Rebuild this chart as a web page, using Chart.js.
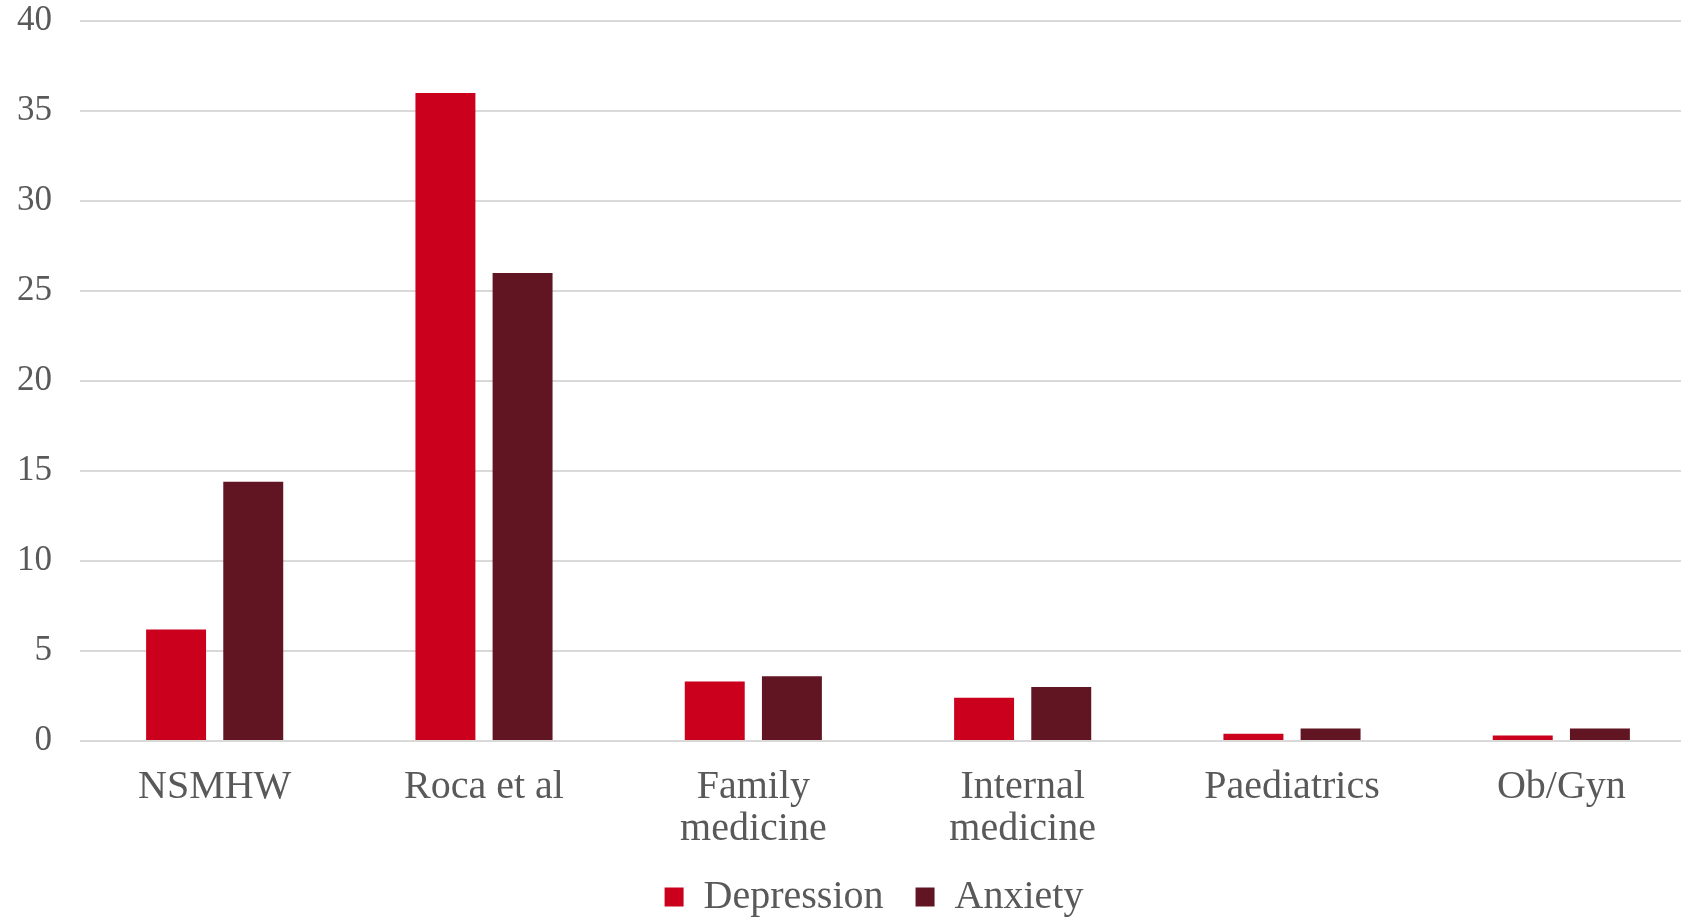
<!DOCTYPE html>
<html>
<head>
<meta charset="utf-8">
<script src="https://cdn.jsdelivr.net/npm/chart.js@4/dist/chart.umd.min.js"></script>
<style>
  html, body { margin: 0; padding: 0; background: #ffffff; overflow: hidden; }
  #wrap { position: absolute; left: 0; top: 0; width: 1696px; height: 927px; }
</style>
</head>
<body>
<div id="wrap"><canvas id="chart" width="1696" height="927"></canvas></div>
<script>
// Prevalence (%) of depression and anxiety by source / specialty
const categories = ['NSMHW', 'Roca et al', ['Family', 'medicine'], ['Internal', 'medicine'], 'Paediatrics', 'Ob/Gyn'];
const depression = [6.2, 36, 3.3, 2.4, 0.4, 0.3];
const anxiety = [14.4, 26, 3.6, 3.0, 0.7, 0.7];
const yTicks = [0, 5, 10, 15, 20, 25, 30, 35, 40];

const textColor = '#595959';
const serif = '"Liberation Serif", "Times New Roman", serif';

// Nudge the centred legend a little to the right of the canvas centre
const legendOffset = {
  id: 'legendOffset',
  afterLayout(chart, args, opts) {
    const lg = chart.legend;
    if (lg) { lg.left += opts.dx; lg.right += opts.dx; }
  }
};

new Chart(document.getElementById('chart'), {
  type: 'bar',
  data: {
    labels: categories,
    datasets: [
      { label: 'Depression', data: depression, backgroundColor: '#CB001C', borderWidth: 0 },
      { label: 'Anxiety', data: anxiety, backgroundColor: '#611522', borderWidth: 0 }
    ]
  },
  plugins: [legendOffset],
  options: {
    responsive: false,
    animation: false,
    events: [],
    datasets: { bar: { categoryPercentage: 0.573, barPercentage: 0.777 } },
    layout: { padding: { left: 0, right: 0, top: 21, bottom: 0 } },
    plugins: {
      tooltip: { enabled: false },
      legendOffset: { dx: 26 },
      legend: {
        position: 'bottom',
        labels: {
          color: textColor,
          font: { family: serif, size: 40 },
          boxWidth: 19,
          boxHeight: 19,
          padding: 32
        }
      }
    },
    scales: {
      x: {
        afterFit: (scale) => { scale.height = 104; },
        grid: { display: false, drawTicks: false },
        border: { display: false },
        ticks: {
          color: textColor,
          font: { family: serif, size: 40, lineHeight: 1.05 },
          padding: 25,
          maxRotation: 0,
          autoSkip: false
        }
      },
      y: {
        min: yTicks[0],
        max: yTicks[yTicks.length - 1],
        afterFit: (scale) => { scale.width = 80; scale.paddingTop = 0; scale.paddingBottom = 0; },
        afterBuildTicks: (scale) => { scale.ticks = yTicks.map(v => ({ value: v })); },
        grid: { color: '#d9d9d9', lineWidth: 2, drawTicks: false },
        border: { display: false },
        ticks: {
          color: textColor,
          font: { family: serif, size: 35 },
          padding: 28
        }
      }
    }
  }
});
</script>
</body>
</html>
